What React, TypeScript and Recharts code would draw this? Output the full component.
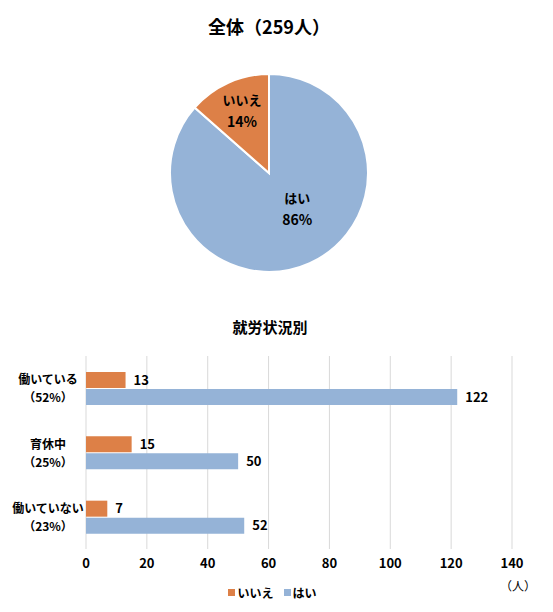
import { PieChart, Pie, Cell, BarChart, Bar, XAxis, YAxis, CartesianGrid, LabelList } from 'recharts'

const FONT = '"Noto Sans CJK JP", "Noto Sans", sans-serif'
const ORANGE = '#DD8047'
const BLUE = '#95B3D7'

// 全体
const pieNames = ['はい', 'いいえ']
const pieValues = [224, 35]
const piePercents = ['86%', '14%']

// 就労状況別
const categories = ['働いている', '育休中', '働いていない']
const categoryShares = ['（52%）', '（25%）', '（23%）']
const noValues = [13, 15, 7]
const yesValues = [122, 50, 52]
const xTicks = [0, 20, 40, 60, 80, 100, 120, 140]

const pieData = pieNames.map((name, i) => ({ name, value: pieValues[i], pct: piePercents[i] }))
const barData = categories.map((name, i) => ({
  name,
  share: categoryShares[i],
  no: noValues[i],
  yes: yesValues[i],
}))

const RAD = Math.PI / 180

function PieLabel(props: any) {
  const { cx, cy, midAngle, outerRadius, index } = props
  const d = pieData[index]
  const big = d.value / 259 > 0.5
  const r = outerRadius * (big ? 0.48 : 0.66)
  const a = midAngle + (big ? 12 : 0)
  const x = cx + r * Math.cos(-a * RAD)
  const y = cy + r * Math.sin(-a * RAD)
  return (
    <text x={x} y={y} textAnchor="middle" fill="#000" fontSize={13} fontWeight="bold" fontFamily={FONT}>
      <tspan x={x} dy={-8}>{d.name}</tspan>
      <tspan x={x} dy={22} fontSize={14}>{d.pct}</tspan>
    </text>
  )
}

function CategoryTick(props: any) {
  const { y, payload, index } = props
  return (
    <text x={48} y={y} textAnchor="middle" fill="#000" fontSize={12} fontWeight="bold" fontFamily={FONT}>
      <tspan x={48} dy={-4}>{payload.value}</tspan>
      <tspan x={48} dy={18}>{barData[index]?.share}</tspan>
    </text>
  )
}

export default function App() {
  return (
    <div style={{ position: 'absolute', left: 0, top: 0, width: 553, height: 612, background: '#fff', fontFamily: FONT }}>
      <div style={{ position: 'absolute', left: 0, width: 538, top: 13, textAlign: 'center', fontSize: 18, fontWeight: 'bold', color: '#000' }}>
        全体（259人）
      </div>
      <div style={{ position: 'absolute', left: 0, top: 0 }}>
        <PieChart width={553} height={300} margin={{ top: 0, right: 0, bottom: 0, left: 0 }}>
          <Pie
            data={pieData}
            dataKey="value"
            cx={269}
            cy={173}
            outerRadius={99}
            startAngle={90}
            endAngle={-270}
            stroke="#fff"
            strokeWidth={2}
            label={PieLabel}
            labelLine={false}
            isAnimationActive={false}
          >
            <Cell fill={BLUE} />
            <Cell fill={ORANGE} />
          </Pie>
        </PieChart>
      </div>

      <div style={{ position: 'absolute', left: 0, width: 540, top: 316, textAlign: 'center', fontSize: 15, fontWeight: 'bold', color: '#000' }}>
        就労状況別
      </div>
      <div style={{ position: 'absolute', left: 0, top: 300 }}>
        <BarChart
          width={553}
          height={312}
          data={barData}
          layout="vertical"
          margin={{ top: 56, right: 41, bottom: 33, left: 6 }}
          barSize={16}
          barGap={1}
        >
          <CartesianGrid horizontal={false} stroke="#d9d9d9" />
          <XAxis
            type="number"
            domain={[0, 140]}
            ticks={xTicks}
            axisLine={false}
            tickLine={false}
            tickSize={0}
            tickMargin={10}
            height={30}
            tick={{ fill: '#000', fontSize: 13, fontWeight: 'bold', fontFamily: FONT }}
          />
          <YAxis
            type="category"
            dataKey="name"
            width={80}
            axisLine={false}
            tickLine={false}
            tick={CategoryTick}
          />
          <Bar dataKey="no" fill={ORANGE} isAnimationActive={false}>
            <LabelList dataKey="no" position="right" offset={8} fill="#000" fontSize={13} fontWeight="bold" fontFamily={FONT} />
          </Bar>
          <Bar dataKey="yes" fill={BLUE} isAnimationActive={false}>
            <LabelList dataKey="yes" position="right" offset={8} fill="#000" fontSize={13} fontWeight="bold" fontFamily={FONT} />
          </Bar>
        </BarChart>
      </div>

      <div style={{ position: 'absolute', left: 500, top: 577, fontSize: 12, color: '#000' }}>（人）</div>
      <div style={{ position: 'absolute', left: 0, width: 545, top: 584, display: 'flex', justifyContent: 'center', gap: 10, fontSize: 12, fontWeight: 'bold', color: '#000' }}>
        {[['いいえ', ORANGE], ['はい', BLUE]].map(([label, color]) => (
          <span key={label} style={{ display: 'flex', alignItems: 'center', gap: 2 }}>
            <span style={{ width: 7, height: 7, background: color, display: 'inline-block' }} />
            {label}
          </span>
        ))}
      </div>
    </div>
  )
}
